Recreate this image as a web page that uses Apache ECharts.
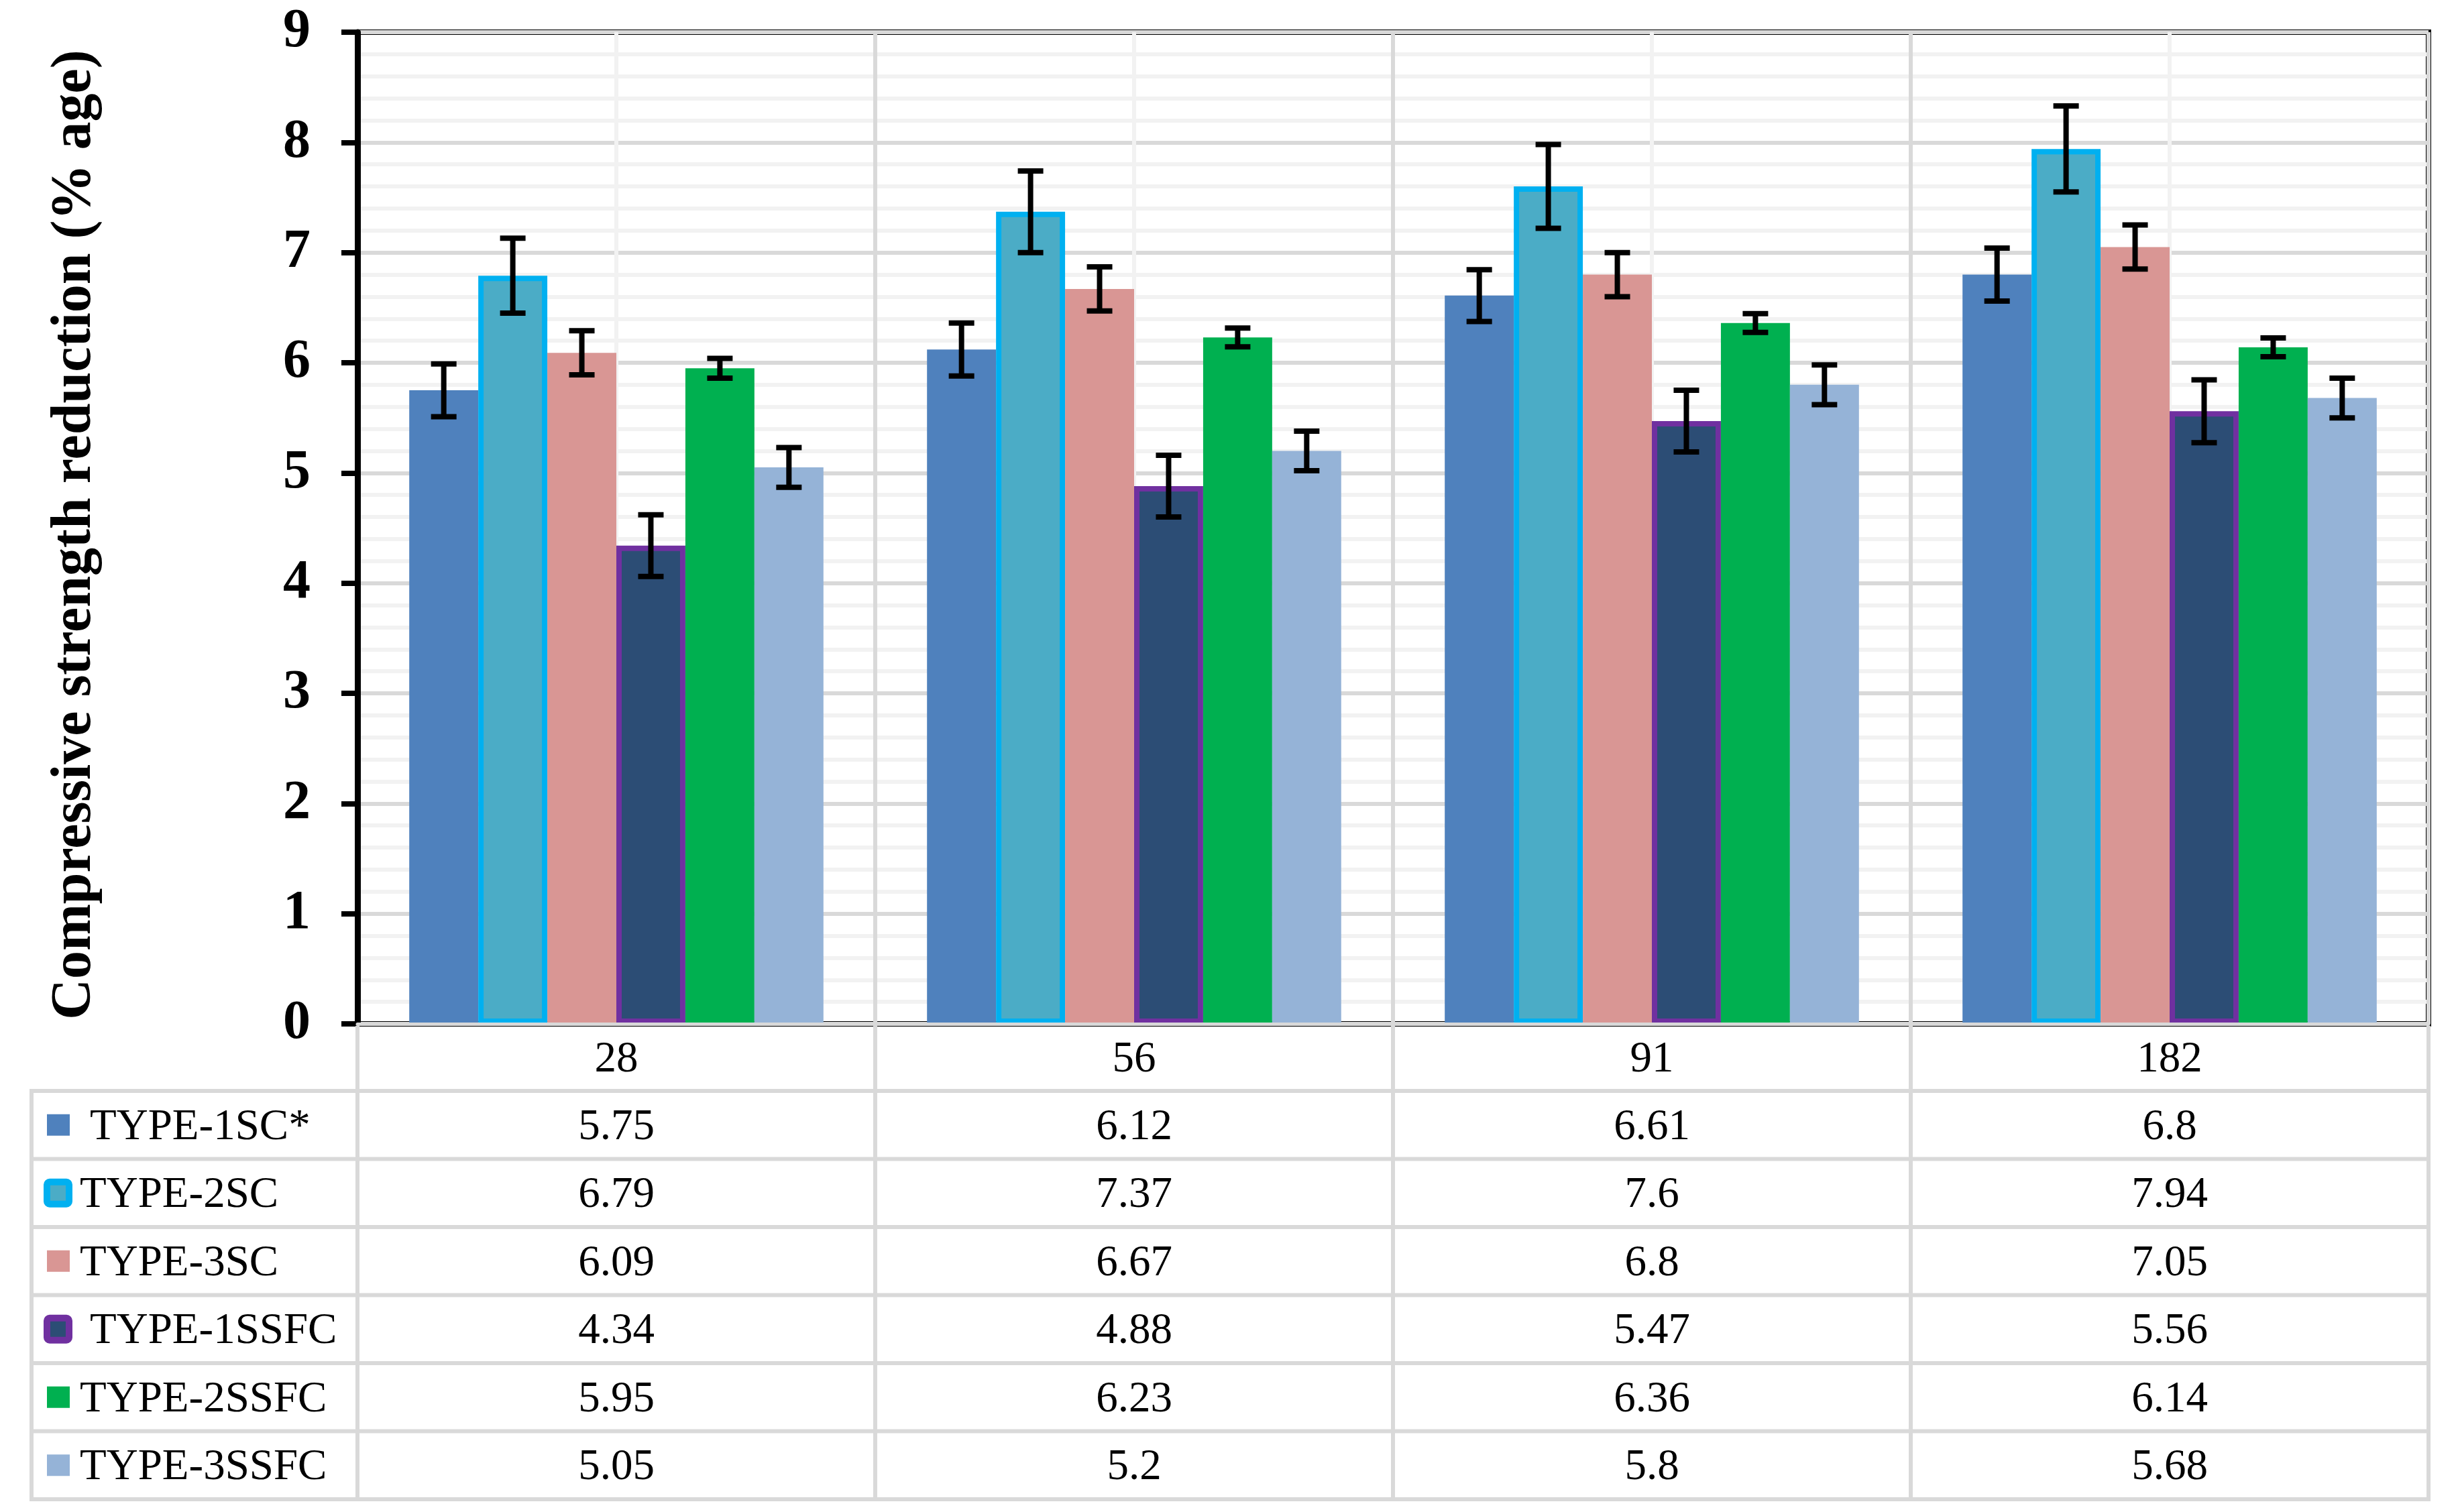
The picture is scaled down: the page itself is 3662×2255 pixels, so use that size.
<!DOCTYPE html>
<html><head><meta charset="utf-8">
<script src="https://cdn.jsdelivr.net/npm/echarts@6/dist/echarts.min.js"></script>
<style>html,body{margin:0;padding:0;background:#fff}#c{width:3662px;height:2255px}</style>
</head><body><div id="c"></div>
<script>
// ---------------- data ----------------
const categories = ['28', '56', '91', '182'];
const seriesNames = ['TYPE-1SC*', 'TYPE-2SC', 'TYPE-3SC', 'TYPE-1SSFC', 'TYPE-2SSFC', 'TYPE-3SSFC'];
const type1SC   = [5.75, 6.12, 6.61, 6.8];
const type2SC   = [6.79, 7.37, 7.6, 7.94];
const type3SC   = [6.09, 6.67, 6.8, 7.05];
const type1SSFC = [4.34, 4.88, 5.47, 5.56];
const type2SSFC = [5.95, 6.23, 6.36, 6.14];
const type3SSFC = [5.05, 5.2, 5.8, 5.68];
// error bar half-lengths
const err1SC   = [0.24, 0.24, 0.235, 0.24];
const err2SC   = [0.34, 0.37, 0.38, 0.39];
const err3SC   = [0.2, 0.2, 0.2, 0.2];
const err1SSFC = [0.28, 0.28, 0.28, 0.285];
const err2SSFC = [0.09, 0.085, 0.085, 0.085];
const err3SSFC = [0.18, 0.18, 0.18, 0.18];
const yTickLabels = ['0','1','2','3','4','5','6','7','8','9'];

const values = [type1SC, type2SC, type3SC, type1SSFC, type2SSFC, type3SSFC];
const errors = [err1SC, err2SC, err3SC, err1SSFC, err2SSFC, err3SSFC];

// ---------------- styles / layout ----------------
const FONT = 'Liberation Serif, Times New Roman, serif';
const fills   = ['#4f81bd', '#4bacc6', '#d99694', '#2c4d75', '#00b050', '#95b3d7'];
const borders = [null, '#00b0f0', null, '#7030a0', null, null];
const textIndent = [134, 119, 119, 134, 119, 119];
const W = 3662, H = 2255;
const plotLeft = 533, plotRight = 3621, plotTop = 48, plotBottom = 1527;
const tableLeft = 47, headerBottom = 1627, rowH = 101.5;
const tableLine = '#d9d9d9', tableLineW = 6;
const nSeries = seriesNames.length;
const catGap = 0.2;
const tableFont = '65px ' + FONT;
const textDy = 4;

const chart = echarts.init(document.getElementById('c'), null, {renderer: 'canvas', width: W, height: H});

function makeErrRender(i) {
  return function (params, api) {
    const j = api.value(0), v = api.value(1), e = api.value(2);
    const c = api.coord([j, v]);
    const top = api.coord([j, v + e])[1];
    const bot = api.coord([j, v - e])[1];
    const bw = api.size([1, 0])[0] * (1 - catGap) / nSeries;
    const x = c[0] + (i - (nSeries - 1) / 2) * bw;
    const half = 19;
    const st = {stroke: '#000', lineWidth: 8, lineCap: 'butt'};
    return {
      type: 'group',
      children: [
        {type: 'line', shape: {x1: x, y1: top, x2: x, y2: bot}, style: st},
        {type: 'line', shape: {x1: x - half, y1: top, x2: x + half, y2: top}, style: st},
        {type: 'line', shape: {x1: x - half, y1: bot, x2: x + half, y2: bot}, style: st}
      ]
    };
  };
}

const series = [];
values.forEach((vals, i) => {
  const itemStyle = {color: fills[i]};
  if (borders[i]) { itemStyle.borderColor = borders[i]; itemStyle.borderWidth = 8; }
  series.push({
    type: 'bar', name: seriesNames[i], data: vals, xAxisIndex: 0, yAxisIndex: 0,
    barGap: '0%', barCategoryGap: (catGap * 100) + '%', itemStyle, z: 3,
    emphasis: {disabled: true}, silent: true
  });
});
values.forEach((vals, i) => {
  series.push({
    type: 'custom', name: seriesNames[i] + ' error', xAxisIndex: 0, yAxisIndex: 0,
    data: vals.map((v, j) => [j, v, errors[i][j]]),
    encode: {x: 0, y: 1}, renderItem: makeErrRender(i), z: 6, silent: true
  });
});

const option = {
  backgroundColor: '#fff',
  animation: false,
  textStyle: {fontFamily: FONT},
  grid: {
    left: plotLeft, top: plotTop, right: W - plotRight, bottom: H - plotBottom,
    show: true, borderColor: '#000', borderWidth: 8, backgroundColor: 'transparent',
    containLabel: false, outerBoundsMode: 'none'
  },
  xAxis: [
    {
      type: 'category', data: categories, position: 'bottom',
      axisLine: {show: true, lineStyle: {color: tableLine, width: 5}},
      axisTick: {show: false},
      axisLabel: {fontSize: 65, color: '#000', fontFamily: FONT, margin: 21, lineHeight: 65},
      splitLine: {show: false}, z: 4
    },
    {
      type: 'value', min: 0, max: categories.length * 2, interval: 1, position: 'top',
      axisLine: {show: false}, axisTick: {show: false}, axisLabel: {show: false},
      splitLine: {show: true, lineStyle: {color: ['#d9d9d9', '#f2f2f2'], width: 6}}, z: 0
    }
  ],
  yAxis: {
    type: 'value', min: 0, max: 9, interval: 1,
    axisLine: {show: true, lineStyle: {color: '#000', width: 9}},
    axisTick: {show: true, inside: false, length: 24, lineStyle: {color: '#000', width: 8}},
    axisLabel: {
      fontSize: 82, fontWeight: 'bold', color: '#000', fontFamily: FONT, margin: 70,
      formatter: (v) => yTickLabels[Math.round(v)]
    },
    splitLine: {show: true, lineStyle: {color: '#d9d9d9', width: 6}},
    minorTick: {show: false, splitNumber: 5},
    minorSplitLine: {show: true, lineStyle: {color: '#f2f2f2', width: 6}},
    z: 0
  },
  series
};
chart.setOption(option);

// ---------------- data table below the plot ----------------
const g = [];
const ln = (x1, y1, x2, y2) => g.push({type: 'line', shape: {x1, y1, x2, y2}, style: {stroke: tableLine, lineWidth: tableLineW}, z: 10, silent: true});
const tableBottom = headerBottom + rowH * nSeries;
const bounds = [];
for (let k = 0; k <= categories.length; k++) bounds.push(plotLeft + (plotRight - plotLeft) * k / categories.length);
bounds.forEach(x => ln(x, plotBottom + 3, x, tableBottom));
ln(tableLeft, headerBottom, tableLeft, tableBottom);
for (let r = 0; r <= nSeries; r++) {
  const y = headerBottom + r * rowH;
  ln(tableLeft - 3, y, plotRight + 3, y);
}
seriesNames.forEach((name, i) => {
  const cy = headerBottom + (i + 0.5) * rowH;
  if (borders[i]) {
    g.push({type: 'rect', shape: {x: 70, y: cy - 16.5, width: 33, height: 33, r: 4},
      style: {fill: fills[i], stroke: borders[i], lineWidth: 10}, z: 11, silent: true});
  } else {
    g.push({type: 'rect', shape: {x: 70, y: cy - 16, width: 34, height: 32},
      style: {fill: fills[i]}, z: 11, silent: true});
  }
  g.push({type: 'text', x: textIndent[i], y: cy + textDy, z: 11, silent: true,
    style: {text: name, font: tableFont, fill: '#000', textAlign: 'left', textVerticalAlign: 'middle'}});
  categories.forEach((c, j) => {
    const cx = chart.convertToPixel({xAxisIndex: 0}, c);
    g.push({type: 'text', x: cx, y: cy + textDy, z: 11, silent: true,
      style: {text: String(values[i][j]), font: tableFont, fill: '#000', textAlign: 'center', textVerticalAlign: 'middle'}});
  });
});
g.push({type: 'text', x: 112, y: (plotTop + plotBottom) / 2 + 10, rotation: Math.PI / 2, z: 11, silent: true,
  style: {text: 'Compressive strength reduction (% age)', font: 'bold 84px ' + FONT, fill: '#000', textAlign: 'center', textVerticalAlign: 'middle'}});
chart.setOption({graphic: {elements: g}});
</script>
</body></html>
